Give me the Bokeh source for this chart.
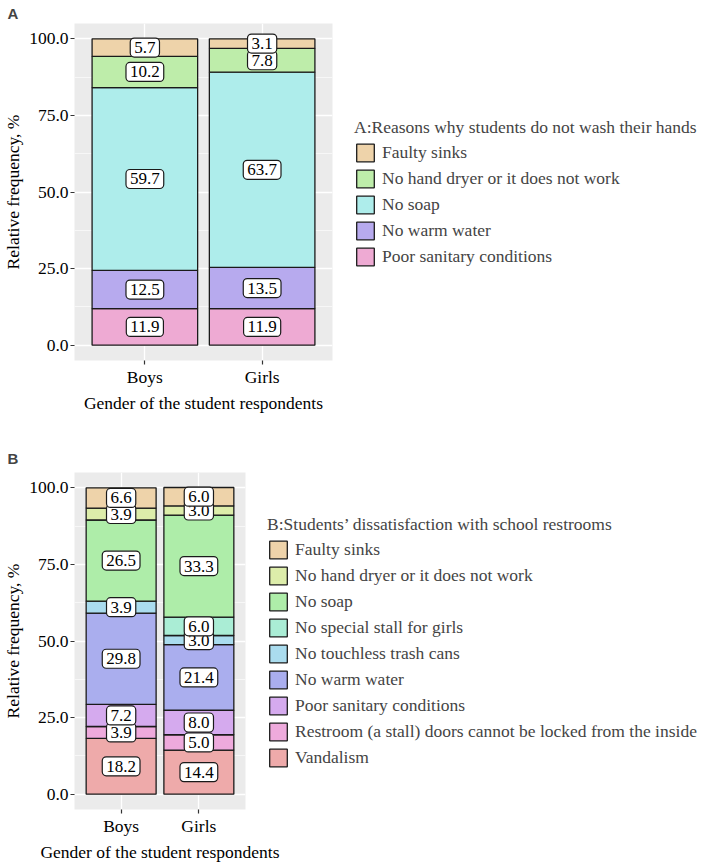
from bokeh.plotting import figure
from bokeh.models import (ColumnDataSource, Legend, LegendItem, FactorRange, FixedTicker,
                          Range1d, Title, NumeralTickFormatter)
from bokeh.layouts import column
from bokeh.embed import file_html
from bokeh.resources import INLINE
from bokeh.core.properties import value

genders = ["Boys", "Girls"]
y_ticks = [0, 25, 50, 75, 100]
y_minor = [12.5, 37.5, 62.5, 87.5]

a_title = "A:Reasons why students do not wash their hands"
a_categories = ["Faulty sinks", "No hand dryer or it does not work", "No soap",
                "No warm water", "Poor sanitary conditions"]
a_boys = [5.7, 10.2, 59.7, 12.5, 11.9]
a_girls = [3.1, 7.8, 63.7, 13.5, 11.9]
a_colors = ["#EED3AA", "#BEEDAA", "#AEEDEB", "#B7AAEE", "#EEAAD3"]

b_title = "B:Students\u2019 dissatisfaction with school restrooms"
b_categories = ["Faulty sinks", "No hand dryer or it does not work", "No soap",
                "No special stall for girls", "No touchless trash cans", "No warm water",
                "Poor sanitary conditions",
                "Restroom (a stall) doors cannot be locked from the inside", "Vandalism"]
b_boys = [6.6, 3.9, 26.5, 0.0, 3.9, 29.8, 7.2, 3.9, 18.2]
b_girls = [6.0, 3.0, 33.3, 6.0, 3.0, 21.4, 8.0, 5.0, 14.4]
b_colors = ["#EED3AA", "#DDEDAA", "#AEEDA9", "#AAEDD5", "#AADCEE", "#AAAEEE",
            "#D5AAEE", "#EEAADC", "#EEAAAA"]

SERIF = "Liberation Serif"
FS = "17.5px"


def make_panel(letter, legend_title, cats, boys, girls, colors, frame_w, top, bottom):
    p = figure(x_range=FactorRange(factors=genders, range_padding=0.1,
                                   range_padding_units="absolute"),
               y_range=Range1d(-5, 105), frame_width=frame_w, frame_height=337,
               min_border_left=67, min_border_top=top, min_border_bottom=bottom,
               min_border_right=0,
               output_backend="svg", toolbar_location=None)
    p.background_fill_color = "#EBEBEB"
    p.border_fill_color = "white"
    p.outline_line_color = None

    items = {}
    labels_x, labels_y, labels_t = [], [], []
    bottoms = {"Boys": 0.0, "Girls": 0.0}
    for idx in reversed(range(len(cats))):
        tops_list, bots_list = [], []
        for g, vals in zip(genders, [boys, girls]):
            b0 = bottoms[g]
            t0 = b0 + vals[idx]
            bots_list.append(b0)
            tops_list.append(t0)
            bottoms[g] = t0
            if vals[idx] > 0:
                labels_x.append(g)
                labels_y.append((b0 + t0) / 2)
                labels_t.append("%.1f" % vals[idx])
        src = ColumnDataSource(dict(x=genders, top=tops_list, bottom=bots_list))
        r = p.vbar(x="x", top="top", bottom="bottom", width=0.9, source=src,
                   fill_color=colors[idx], line_color="#1a1a1a", line_width=1.3)
        items[idx] = r

    lsrc = ColumnDataSource(dict(x=labels_x, y=labels_y, t=labels_t))
    p.text(x="x", y="y", text="t", source=lsrc, text_align="center",
           text_baseline="middle", text_font=value(SERIF),
           text_font_style="normal", text_font_size="17px",
           text_color="black", background_fill_color="white",
           border_line_color="#1a1a1a", border_line_width=1.2,
           padding=4, border_radius=4)

    legend = Legend(items=[LegendItem(label=cats[i], renderers=[items[i]])
                           for i in range(len(cats))],
                    title=legend_title, location="center_left", orientation="vertical")
    legend.title_text_font = SERIF
    legend.title_text_font_size = FS
    legend.title_text_font_style = "normal"
    legend.title_standoff = 4
    legend.label_text_font = SERIF
    legend.label_text_font_size = FS
    legend.glyph_width = 22
    legend.glyph_height = 22
    legend.label_height = 22
    legend.spacing = 4
    legend.label_standoff = 6
    legend.padding = 2
    legend.margin = 22
    legend.border_line_color = None
    legend.background_fill_color = None
    p.add_layout(legend, "right")

    p.yaxis.ticker = FixedTicker(ticks=y_ticks)
    p.yaxis.formatter = NumeralTickFormatter(format="0.0")
    p.ygrid.ticker = FixedTicker(ticks=y_ticks, minor_ticks=y_minor)
    p.ygrid.grid_line_color = "white"
    p.ygrid.grid_line_width = 1.3
    p.ygrid.minor_grid_line_color = "white"
    p.ygrid.minor_grid_line_width = 0.6
    p.xgrid.grid_line_color = "white"
    p.xgrid.grid_line_width = 1.3

    for ax in (p.xaxis[0], p.yaxis[0]):
        ax.axis_line_color = None
        ax.major_tick_line_color = "#333333"
        ax.major_tick_line_width = 1.2
        ax.major_tick_out = 4
        ax.major_tick_in = 0
        ax.minor_tick_line_color = None
        ax.major_label_text_font = SERIF
        ax.major_label_text_font_size = FS
        ax.major_label_text_font_style = "normal"
        ax.major_label_text_color = "black"
        ax.axis_label_text_font = SERIF
        ax.axis_label_text_font_size = FS
        ax.axis_label_text_font_style = "normal"
        ax.axis_label_text_color = "black"
        ax.major_label_standoff = 2
    p.xaxis.axis_label = "Gender of the student respondents"
    p.yaxis.axis_label = "Relative frequency, %"
    p.xaxis.axis_label_standoff = 3
    p.yaxis.axis_label_standoff = 3

    p.title = Title(text=letter, align="left", text_font="Liberation Sans",
                    text_font_style="bold", text_font_size="15px", offset=-67,
                    standoff=4)
    return p


pa = make_panel("A", a_title, a_categories, a_boys, a_girls, a_colors, 258, 18, 44)
pb = make_panel("B", b_title, b_categories, b_boys, b_girls, b_colors, 171, 57, 46)
pb.title.standoff = 12

layout = column(pa, pb, spacing=0)
open("out.html", "w").write(file_html(layout, INLINE))
